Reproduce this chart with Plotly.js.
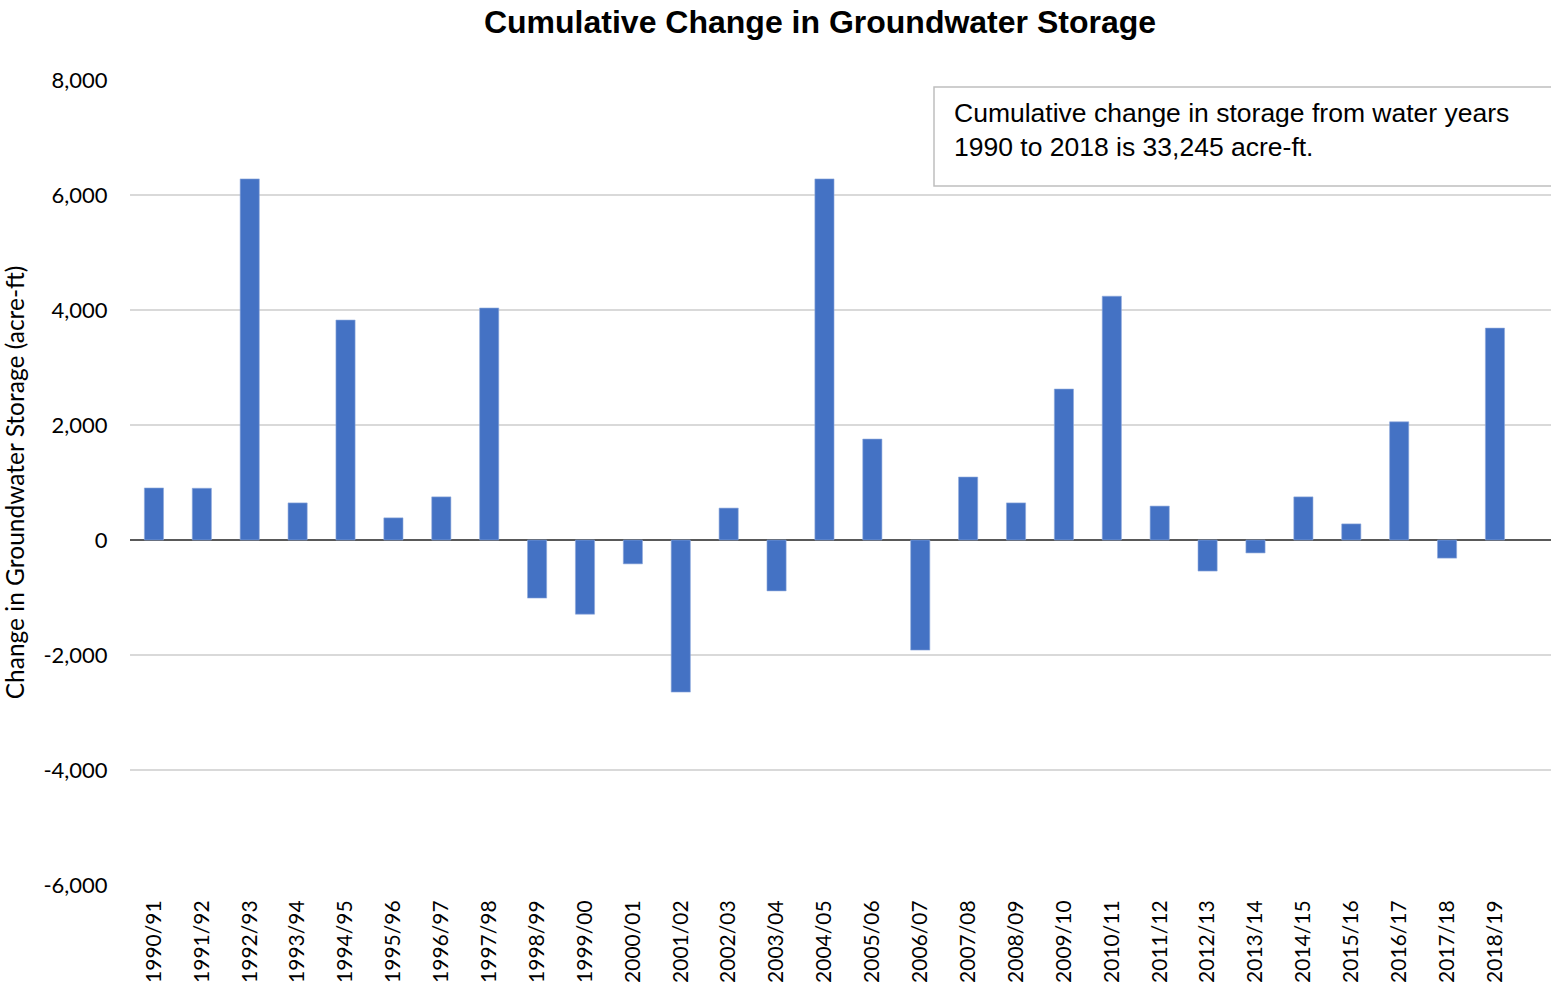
<!DOCTYPE html>
<html>
<head>
<meta charset="utf-8">
<script src="https://cdn.plot.ly/plotly-3.0.1.min.js"></script>
<style>html,body{margin:0;padding:0;background:#fff;}#chart{width:1551px;height:985px;}</style>
</head>
<body>
<div id="chart"></div>
<script>
const years = ["1990/91","1991/92","1992/93","1993/94","1994/95","1995/96","1996/97","1997/98","1998/99","1999/00",
  "2000/01","2001/02","2002/03","2003/04","2004/05","2005/06","2006/07","2007/08","2008/09","2009/10",
  "2010/11","2011/12","2012/13","2013/14","2014/15","2015/16","2016/17","2017/18","2018/19"];
const storageChange = [905, 900, 6280, 645, 3825, 385, 750, 4035, -1010, -1290,
  -415, -2645, 555, -885, 6280, 1755, -1915, 1095, 645, 2625,
  4240, 590, -540, -225, 750, 280, 2055, -315, 3685];
const yTicks = [-6000, -4000, -2000, 0, 2000, 4000, 6000, 8000];
const yTickText = ["-6,000", "-4,000", "-2,000", "0", "2,000", "4,000", "6,000", "8,000"];
const titleText = "Cumulative Change in Groundwater Storage";
const yTitle = "Change in Groundwater Storage (acre-ft)";
const noteText = "Cumulative change in storage from water years<br>1990 to 2018 is 33,245 acre-ft.";

const trace = {
  type: "bar",
  x: years,
  y: storageChange,
  marker: {color: "#4472C4", line: {color: "#8FAADC", width: 0.6}},
  hoverinfo: "x+y"
};

const layout = {
  width: 1551, height: 985,
  margin: {l: 130, r: 0, t: 80, b: 100, pad: 0},
  paper_bgcolor: "#ffffff", plot_bgcolor: "#ffffff",
  bargap: 0.6,
  showlegend: false,
  title: {
    text: "<b>" + titleText + "</b>",
    font: {family: "Liberation Sans, Arial, sans-serif", size: 32, color: "#000000"},
    xref: "container", x: 820/1551, xanchor: "center",
    yref: "container", y: 1 - 22/985, yanchor: "middle"
  },
  xaxis: {
    type: "category",
    range: [-0.5, 29.17],
    showgrid: false, zeroline: false, showline: false,
    tickangle: -90,
    ticks: "outside", ticklen: 6, tickcolor: "rgba(0,0,0,0)",
    tickfont: {family: "Lato, Carlito, Calibri, sans-serif", size: 21, color: "#000000"},
    fixedrange: true
  },
  yaxis: {
    range: [-6000, 8000],
    tickvals: yTicks, ticktext: yTickText,
    showgrid: true, gridcolor: "#D9D9D9", gridwidth: 1.5,
    zeroline: true, zerolinecolor: "#595959", zerolinewidth: 2,
    showline: false,
    ticks: "outside", ticklen: 17, tickcolor: "rgba(0,0,0,0)",
    tickfont: {family: "Lato, Carlito, Calibri, sans-serif", size: 22, color: "#000000"},
    title: {text: yTitle, font: {family: "Lato, Carlito, Calibri, sans-serif", size: 24.5, color: "#000000"}, standoff: 12},
    fixedrange: true
  },
  shapes: [{
    type: "rect", xref: "paper", yref: "paper",
    x0: (934-130)/1421, x1: 1.05,
    y0: (885-186)/805, y1: (885-87)/805,
    line: {color: "#BFBFBF", width: 1.5},
    fillcolor: "#ffffff", layer: "above"
  }],
  annotations: [{
    xref: "paper", yref: "paper",
    x: (952-130)/1421, xanchor: "left",
    y: (885-96)/805, yanchor: "top",
    text: noteText, showarrow: false, align: "left",
    font: {family: "Liberation Sans, Arial, sans-serif", size: 26.5, color: "#000000"}
  }]
};

Plotly.newPlot("chart", [trace], layout, {displayModeBar: false, staticPlot: true});
</script>
</body>
</html>
